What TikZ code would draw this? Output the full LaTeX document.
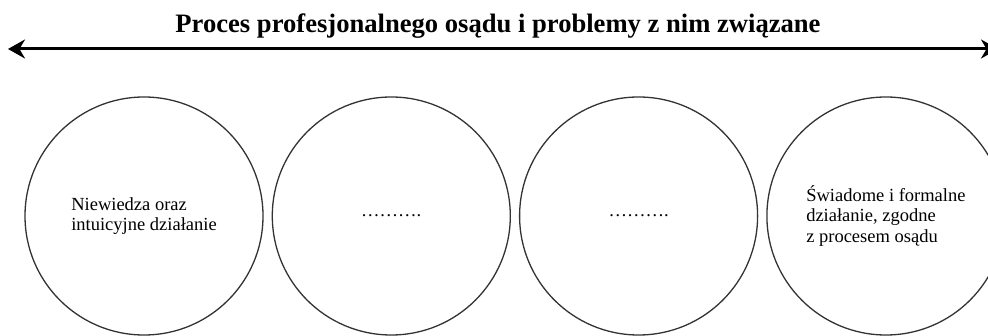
\documentclass[tikz,border=0pt]{standalone}
\usepackage{fontspec}
\setmainfont{Liberation Serif}
\usetikzlibrary{positioning,arrows.meta}

\begin{document}
\begin{tikzpicture}[x=1pt, y=-1pt, node distance=8pt]
    \tikzstyle{stage} = [circle, draw=black!80, line width=1.3pt, minimum size=238pt, inner sep=0pt, align=left, font=\fontsize{18.5}{20.5}\selectfont]
    \tikzstyle{arrow} = [line width=3pt, {Stealth[length=17pt,width=19pt]}-{Stealth[length=17pt,width=19pt]}]

    \useasboundingbox (0,0) rectangle (988,336);

    \node [anchor=base, font=\fontsize{26.6}{30}\selectfont\bfseries] (title) at (498,33) {Proces profesjonalnego osądu i problemy z nim związane};
    \coordinate (arrL) at (8,49);
    \coordinate (arrR) at (998,49);
    \draw [arrow] (arrL) -- (arrR);

    \node [stage] (s1) at (144,216) {Niewiedza oraz\\intuicyjne działanie};
    \node [stage, right=of s1] (s2) {……….};
    \node [stage, right=of s2] (s3) {……….};
    \node [stage, right=of s3] (s4) {Świadome i formalne\\działanie, zgodne\\z procesem osądu};
\end{tikzpicture}
\end{document}
